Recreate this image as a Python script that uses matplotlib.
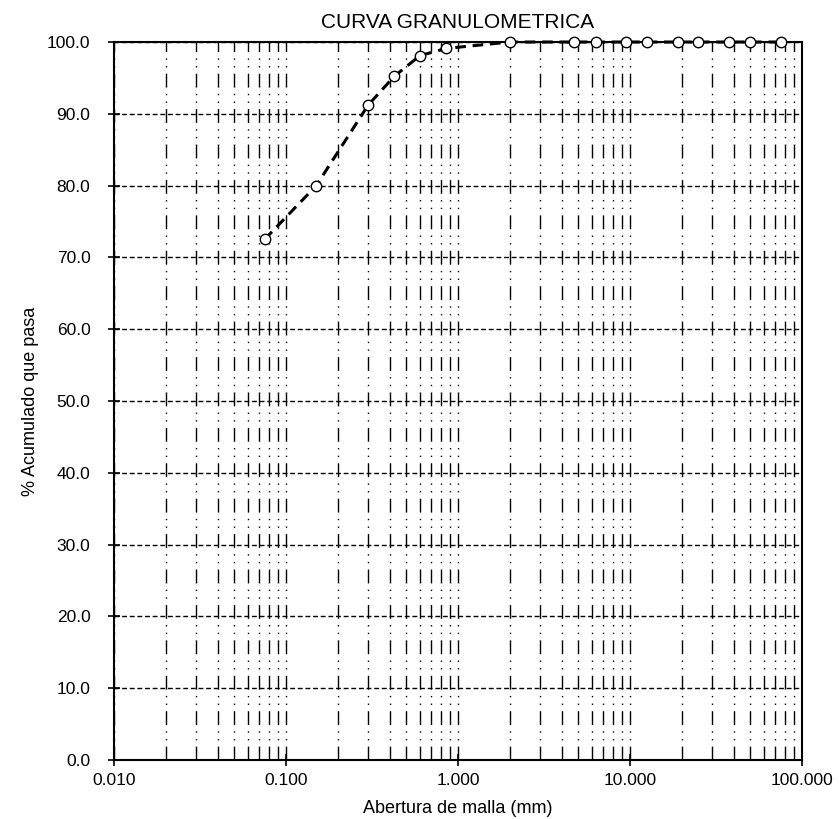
import matplotlib.pyplot as plt
from matplotlib.ticker import LogLocator, FormatStrFormatter

plt.rcParams['font.family'] = ['Liberation Sans', 'DejaVu Sans']

# sieve openings (mm) and cumulative % passing
abertura = [0.075, 0.15, 0.3, 0.425, 0.6, 0.85, 2.0, 4.75, 6.3, 9.5,
            12.5, 19.0, 25.0, 37.5, 50.0, 75.0]
pasa = [72.5, 80.0, 91.2, 95.2, 98.1, 99.1, 100.0, 100.0, 100.0, 100.0,
        100.0, 100.0, 100.0, 100.0, 100.0, 100.0]

x_ticks = [0.01, 0.1, 1.0, 10.0, 100.0]
y_ticks = [0, 10, 20, 30, 40, 50, 60, 70, 80, 90, 100]

fig = plt.figure(figsize=(8.4, 8.19), dpi=100)
ax = fig.add_axes([0.1357, 0.072, 0.8191, 0.8767])

ax.set_xscale('log')
ax.set_xlim(0.01, 100)
ax.set_ylim(0, 100)

# grid: dash-dot verticals at every minor step, short dashes horizontally
ax.xaxis.set_major_locator(LogLocator(base=10, subs=(1.0,)))
ax.xaxis.set_minor_locator(LogLocator(base=10, subs=range(2, 10)))
ax.set_xticks(x_ticks)
ax.set_yticks(y_ticks)
ax.grid(which='both', axis='x', color='black', linewidth=1.0,
        linestyle=(0, (10, 4.5, 1, 4.5, 1, 4.5)))
ax.grid(which='major', axis='y', color='black', linewidth=1.0,
        linestyle=(0, (3.5, 2)))
ax.set_axisbelow(True)

ax.plot(abertura, pasa, color='black', linewidth=2.2,
        linestyle=(0, (3.5, 2.2)), marker='o', markersize=7.5,
        markerfacecolor='white', markeredgecolor='black',
        markeredgewidth=1.0, clip_on=False, zorder=5)

ax.xaxis.set_major_formatter(FormatStrFormatter('%.3f'))
ax.yaxis.set_major_formatter(FormatStrFormatter('%.1f'))
ax.tick_params(axis='both', which='major', direction='inout', length=8,
               width=1.2, labelsize=12.5, colors='black')
ax.tick_params(axis='y', pad=13)
ax.tick_params(axis='x', pad=5)
ax.tick_params(axis='x', which='minor', length=0)

for s in ax.spines.values():
    s.set_linewidth(1.5)
    s.set_color('black')

ax.set_title('CURVA GRANULOMETRICA', fontsize=15, pad=10)
ax.set_xlabel('Abertura de malla (mm)', fontsize=13, labelpad=9)
ax.set_ylabel('% Acumulado que pasa', fontsize=13, labelpad=6)

plt.savefig('out.png', dpi=100)
